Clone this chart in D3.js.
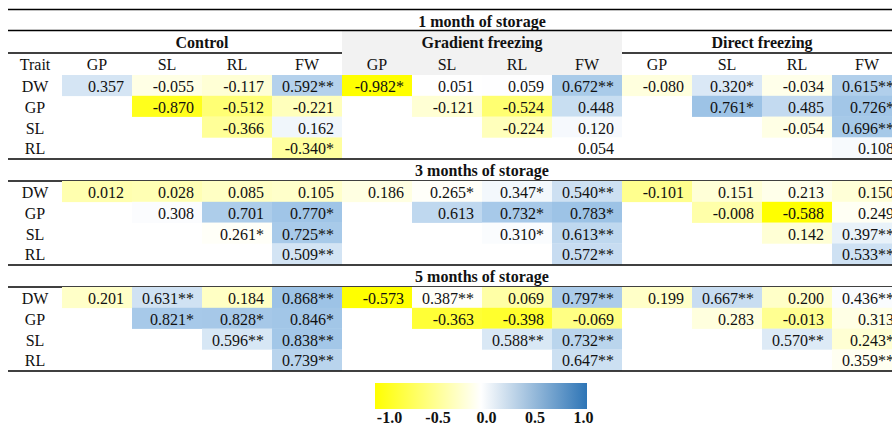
<!DOCTYPE html>
<html lang="en">
<head>
    <meta charset="UTF-8">
    <title>Correlation table</title>
    <script src="https://cdn.jsdelivr.net/npm/d3@7/dist/d3.min.js"></script>
    <style>
        body { margin: 0; background: #fff; }
        text { font-family: "Liberation Serif", "Times New Roman", serif; fill: #111; }
    </style>
</head>
<body>
<script>
    // 表格数据
    var traits = ["DW", "GP", "SL", "RL"];
    var columns = ["GP", "SL", "RL", "FW"];
    var treatments = ["Control", "Gradient freezing", "Direct freezing"];
    var storages = ["1 month of storage", "3 months of storage", "5 months of storage"];

    // 每行 12 个单元格: Control | Gradient freezing | Direct freezing
    var month1 = [
        ["0.357", "-0.055", "-0.117", "0.592**", "-0.982*", "0.051", "0.059", "0.672**", "-0.080", "0.320*", "-0.034", "0.615**"],
        [null, "-0.870", "-0.512", "-0.221", null, "-0.121", "-0.524", "0.448", null, "0.761*", "0.485", "0.726*"],
        [null, null, "-0.366", "0.162", null, null, "-0.224", "0.120", null, null, "-0.054", "0.696**"],
        [null, null, null, "-0.340*", null, null, null, "0.054", null, null, null, "0.108"]
    ];
    var month3 = [
        ["0.012", "0.028", "0.085", "0.105", "0.186", "0.265*", "0.347*", "0.540**", "-0.101", "0.151", "0.213", "0.150"],
        [null, "0.308", "0.701", "0.770*", null, "0.613", "0.732*", "0.783*", null, "-0.008", "-0.588", "0.249"],
        [null, null, "0.261*", "0.725**", null, null, "0.310*", "0.613**", null, null, "0.142", "0.397**"],
        [null, null, null, "0.509**", null, null, null, "0.572**", null, null, null, "0.533**"]
    ];
    var month5 = [
        ["0.201", "0.631**", "0.184", "0.868**", "-0.573", "0.387**", "0.069", "0.797**", "0.199", "0.667**", "0.200", "0.436**"],
        [null, "0.821*", "0.828*", "0.846*", null, "-0.363", "-0.398", "-0.069", null, "0.283", "-0.013", "0.313"],
        [null, null, "0.596**", "0.838**", null, null, "0.588**", "0.732**", null, null, "0.570**", "0.243*"],
        [null, null, null, "0.739**", null, null, null, "0.647**", null, null, null, "0.359**"]
    ];
    var blocks = [month1, month3, month5];
    var legendTicks = [-1, -0.5, 0, 0.5, 1];

    // 画布
    var width = 892;
    var height = 427;
    var svg = d3.select("body")
        .append("svg")
        .attr("width", width)
        .attr("height", height);

    var left = 8;        // 表格左边
    var labelX = 35;     // Trait 列中心
    var rowH = 20.8;
    var colKeys = d3.range(12);
    var x = d3.scaleBand()
        .domain(colKeys)
        .range([62, 902]);

    function hline(y, x1, x2) {
        svg.append("line")
            .attr("x1", x1).attr("x2", x2)
            .attr("y1", y).attr("y2", y)
            .attr("stroke", "#000")
            .attr("stroke-width", 1.3);
    }

    var y = 9.5;
    hline(y, left, width);

    blocks.forEach(function (rows, b) {
        // 颜色: 每个储藏期单独按 最小-中位数-最大 上色
        var vals = [];
        rows.forEach(function (r) {
            r.forEach(function (v) { if (v !== null) vals.push(parseFloat(v)); });
        });
        vals.sort(d3.ascending);
        var color = d3.scaleLinear()
            .domain([vals[0], d3.quantileSorted(vals, 0.5), vals[vals.length - 1]])
            .range(["#ffff00", "#ffffff", "#9dc3e6"]);

        // 储藏期标题
        var titleTop = y;
        y += (b === 0) ? 21 : 22;
        if (b === 0) {
            svg.append("rect")
                .attr("x", x(4)).attr("y", y)
                .attr("width", x.bandwidth() * 4)
                .attr("height", 44.5)
                .attr("fill", "#f2f2f2");
        }
        svg.append("text")
            .attr("x", (x(0) + 902) / 2)
            .attr("y", titleTop + 17)
            .attr("text-anchor", "middle")
            .attr("font-size", 16)
            .attr("font-weight", "bold")
            .text(storages[b]);
        hline(y, left, width);

        if (b === 0) {
            // 处理名称
            svg.selectAll(".treat")
                .data(treatments)
                .enter()
                .append("text")
                .attr("x", function (d, i) { return x(i * 4) + x.bandwidth() * 2; })
                .attr("y", y + 17)
                .attr("text-anchor", "middle")
                .attr("font-size", 16)
                .attr("font-weight", "bold")
                .text(function (d) { return d; });
            y += 22.5;
            hline(y, left, x(4));
            hline(y, x(8), width);

            // 列名
            svg.append("text")
                .attr("x", labelX).attr("y", y + 17)
                .attr("text-anchor", "middle")
                .attr("font-size", 16)
                .text("Trait");
            svg.selectAll(".colname")
                .data(colKeys)
                .enter()
                .append("text")
                .attr("x", function (d) { return x(d) + x.bandwidth() / 2; })
                .attr("y", y + 17)
                .attr("text-anchor", "middle")
                .attr("font-size", 16)
                .text(function (d) { return columns[d % 4]; });
            y += 22;
        }

        // 数据行
        rows.forEach(function (r, i) {
            var top = y + i * rowH;
            svg.append("text")
                .attr("x", labelX).attr("y", top + 17)
                .attr("text-anchor", "middle")
                .attr("font-size", 16)
                .text(traits[i]);

            var cells = svg.append("g")
                .selectAll("g")
                .data(r.map(function (v, j) { return {v: v, j: j}; })
                    .filter(function (d) { return d.v !== null; }))
                .enter()
                .append("g");
            cells.append("rect")
                .attr("x", function (d) { return x(d.j); })
                .attr("y", top)
                .attr("width", x.bandwidth())
                .attr("height", rowH + 0.3)
                .attr("fill", function (d) { return color(parseFloat(d.v)); });
            cells.append("text")
                .attr("x", function (d) { return x(d.j) + x.bandwidth() - 8; })
                .attr("y", top + 17)
                .attr("text-anchor", "end")
                .attr("font-size", 16)
                .text(function (d) { return d.v; });
        });
        y += rows.length * rowH + 0.8;
        hline(y, left, width);
    });

    // 图例
    var defs = svg.append("defs");
    var grad = defs.append("linearGradient")
        .attr("id", "legendGrad")
        .attr("x1", "0%").attr("x2", "100%");
    grad.append("stop").attr("offset", "0%").attr("stop-color", "#ffff00");
    grad.append("stop").attr("offset", "50%").attr("stop-color", "#ffffff");
    grad.append("stop").attr("offset", "100%").attr("stop-color", "#2e75b6");

    svg.append("rect")
        .attr("x", 375).attr("y", 383)
        .attr("width", 212).attr("height", 26)
        .attr("fill", "url(#legendGrad)");

    var lx = d3.scaleLinear().domain([-1, 1]).range([389, 583]);
    var axis = d3.axisBottom(lx)
        .tickValues(legendTicks)
        .tickSize(0)
        .tickPadding(0)
        .tickFormat(function (d) { return d.toFixed(1); });
    var ag = svg.append("g")
        .attr("transform", "translate(0,410)")
        .call(axis);
    ag.select(".domain").remove();
    ag.selectAll("text")
        .attr("dy", null)
        .attr("y", 13)
        .attr("font-size", 16)
        .attr("font-weight", "bold")
        .attr("font-family", "Liberation Serif, Times New Roman, serif")
        .attr("fill", "#111");
</script>
</body>
</html>
